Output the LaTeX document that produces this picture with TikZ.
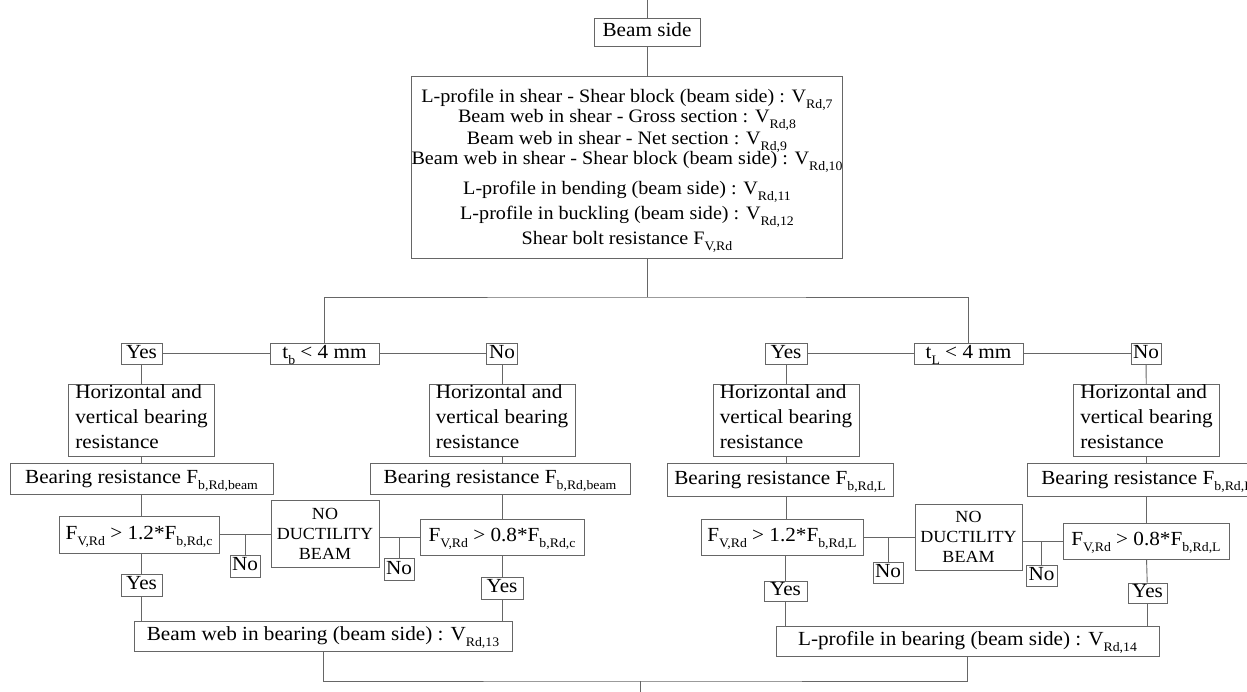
\documentclass[tikz,border=0pt]{standalone}
\usepackage{fontspec}
\setmainfont{Liberation Serif}[FakeStretch=1.06]
\newcommand\sbs[1]{\raisebox{-6pt}[0pt]{\fontsize{13}{13}\selectfont #1}}
\newcommand\bigfont{\fontsize{19}{20}\selectfont\lineskiplimit=-100pt\relax}
\newcommand\hvfont{\fontsize{20}{25}\selectfont}
\newcommand\ndfont{\fontsize{17}{20}\selectfont\lineskiplimit=-100pt\relax}
\tikzset{
  bx/.style={draw=black!60, line width=0.9pt, inner sep=0pt, font=\fontsize{20}{24}\selectfont, text=black},
  one/.style={bx, text height=14pt, text depth=4.5pt},
  hv/.style={bx, align=left, font=\hvfont, minimum width=146pt, minimum height=71pt},
  nd/.style={bx, align=center, font=\ndfont, minimum width=108pt, minimum height=67pt},
  ln/.style={draw=black!60, line width=0.9pt},
}
\begin{document}
\begin{tikzpicture}[x=1pt,y=-1pt]
\useasboundingbox (0,0) rectangle (1247,692);
\clip (0,0) rectangle (1247,692);
\fill[white] (0,0) rectangle (1247,692);

% top
\node[one, minimum width=106pt, minimum height=28pt] (beamside) at (647,32) {Beam side};
\node[bx, align=center, font=\bigfont, minimum width=430pt, minimum height=182pt] (big) at (627,167) {%
\rule{0pt}{21pt}L-profile in shear - Shear block (beam side) : V\sbs{Rd,7}\\
Beam web in shear - Gross section : V\sbs{Rd,8}\\[2pt]
Beam web in shear - Net section : V\sbs{Rd,9}\\
Beam web in shear - Shear block (beam side) : V\sbs{Rd,10}\\[10pt]
L-profile in bending (beam side) : V\sbs{Rd,11}\\[5pt]
L-profile in buckling (beam side) : V\sbs{Rd,12}\\[5pt]
Shear bolt resistance F\sbs{V,Rd}};
\coordinate (top) at (647,0);
\coordinate (bar) at (647,297);

% left group
\node[one, minimum width=109pt, minimum height=21pt] (tb) at (324.5,353.5) {t\sbs{b} < 4 mm};
\node[one, minimum width=41pt, minimum height=21pt] (yes1) at (141.5,353.5) {Yes};
\node[one, minimum width=31pt, minimum height=21pt] (no1) at (502,353.5) {No};
\node[hv] (hv1) at (141.5,420.5) {Horizontal and\\vertical bearing\\resistance\strut};
\node[hv] (hv2) at (502,420.5) {Horizontal and\\vertical bearing\\resistance\strut};
\node[one, minimum width=263pt, minimum height=31pt] (br1) at (141.5,478.5) {Bearing resistance F\sbs{b,Rd,beam}};
\node[one, minimum width=260pt, minimum height=31pt] (br2) at (500,478.5) {Bearing resistance F\sbs{b,Rd,beam}};
\node[one, minimum width=160pt, minimum height=37pt] (f1) at (139,534.5) {F\sbs{V,Rd} > 1.2*F\sbs{b,Rd,c}};
\node[nd] (nd1) at (325,533.5) {NO\\DUCTILITY\\BEAM};
\node[one, minimum width=164pt, minimum height=36pt] (f2) at (502,537) {F\sbs{V,Rd} > 0.8*F\sbs{b,Rd,c}};
\node[one, minimum width=30pt, minimum height=22pt] (no1b) at (245,566) {No};
\node[one, minimum width=30pt, minimum height=22pt] (no1c) at (399,569.5) {No};
\node[one, minimum width=41pt, minimum height=22pt] (yes1b) at (141.5,585) {Yes};
\node[one, minimum width=42pt, minimum height=22pt] (yes1c) at (502,588) {Yes};
\node[one, minimum width=378pt, minimum height=30pt] (bw) at (323,636) {Beam web in bearing (beam side) : V\sbs{Rd,13}};

% right group
\node[one, minimum width=109pt, minimum height=21pt] (tl) at (968.5,353.5) {t\sbs{L} < 4 mm};
\node[one, minimum width=42pt, minimum height=21pt] (yes2) at (786,353.5) {Yes};
\node[one, minimum width=30pt, minimum height=21pt] (no2) at (1146,353.5) {No};
\node[hv] (hv3) at (786,420.5) {Horizontal and\\vertical bearing\\resistance\strut};
\node[hv] (hv4) at (1146.5,420.5) {Horizontal and\\vertical bearing\\resistance\strut};
\node[one, minimum width=226pt, minimum height=33pt] (br3) at (780,479.5) {Bearing resistance F\sbs{b,Rd,L}};
\node[one, minimum width=240pt, minimum height=33pt] (br4) at (1147,479.5) {Bearing resistance F\sbs{b,Rd,L}};
\node[one, minimum width=162pt, minimum height=36pt] (f3) at (782,537) {F\sbs{V,Rd} > 1.2*F\sbs{b,Rd,L}};
\node[nd, minimum width=107pt, minimum height=66pt] (nd2) at (968.5,537) {NO\\DUCTILITY\\BEAM};
\node[one, minimum width=166pt, minimum height=36pt] (f4) at (1146,541) {F\sbs{V,Rd} > 0.8*F\sbs{b,Rd,L}};
\node[one, minimum width=30pt, minimum height=21pt] (no3) at (888,572.5) {No};
\node[one, minimum width=31pt, minimum height=21pt] (no4) at (1041.5,575.5) {No};
\node[one, minimum width=43pt, minimum height=20pt] (yes3) at (785.5,591) {Yes};
\node[one, minimum width=39pt, minimum height=20pt] (yes4) at (1147.5,593) {Yes};
\node[one, minimum width=383pt, minimum height=30pt] (lp) at (967.5,641) {L-profile in bearing (beam side) : V\sbs{Rd,14}};

\coordinate (bot) at (640,681);
\coordinate (end) at (640,692);

% connectors top
\draw[ln] (top) -- (beamside.north);
\draw[ln] (beamside.south) -- (beamside.south |- big.north);
\draw[ln] (beamside.south |- big.south) -- (bar);
\draw[ln] (tb.north) |- (bar) -| (tl.north);

% left group connectors
\draw[ln] (yes1) -- (tb) -- (no1);
\draw[ln] (yes1) -- (hv1);
\draw[ln] (hv1) -- (br1);
\draw[ln] (br1.south) -- (br1.south |- f1.north);
\draw[ln] (f1.south -| yes1b.north) -- (yes1b.north);
\draw[ln] (yes1b.south) -- (yes1b.south |- bw.north);
\draw[ln] (f1.east) -- (f1.east -| nd1.west);
\draw[ln] (no1b.north) -- (no1b.north |- f1.east);
\draw[ln] (nd1.east |- f2.west) -- (f2.west);
\draw[ln] (no1c.north) -- (no1c.north |- f2.west);
\draw[ln] (no1) -- (hv2);
\draw[ln] (hv2.south) -- (hv2.south |- br2.north);
\draw[ln] (br2.south -| f2.north) -- (f2.north);
\draw[ln] (f2) -- (yes1c);
\draw[ln] (yes1c.south) -- (yes1c.south |- bw.north);

% right group connectors
\draw[ln] (yes2) -- (tl) -- (no2);
\draw[ln] (yes2) -- (hv3);
\draw[ln] (hv3.south) -- (hv3.south |- br3.north);
\draw[ln] (br3.south -| hv3.south) -- (hv3.south |- f3.north);
\draw[ln] (f3.south -| yes3.north) -- (yes3.north);
\draw[ln] (yes3.south) -- (yes3.south |- lp.north);
\draw[ln] (f3.east) -- (f3.east -| nd2.west);
\draw[ln] (no3.north) -- (no3.north |- f3.east);
\draw[ln] (nd2.east |- f4.west) -- (f4.west);
\draw[ln] (no4.north) -- (no4.north |- f4.west);
\draw[ln] (no2) -- (hv4);
\draw[ln] (hv4.south) -- (hv4.south |- br4.north);
\draw[ln] (br4.south -| f4.north) -- (f4.north);
\draw[ln] (f4) -- (yes4);
\draw[ln] (yes4.south) -- (yes4.south |- lp.north);

% bottom
\draw[ln] (bw.south) |- (bot) -| (lp.south);
\draw[ln] (bot) -- (end);
\end{tikzpicture}
\end{document}
